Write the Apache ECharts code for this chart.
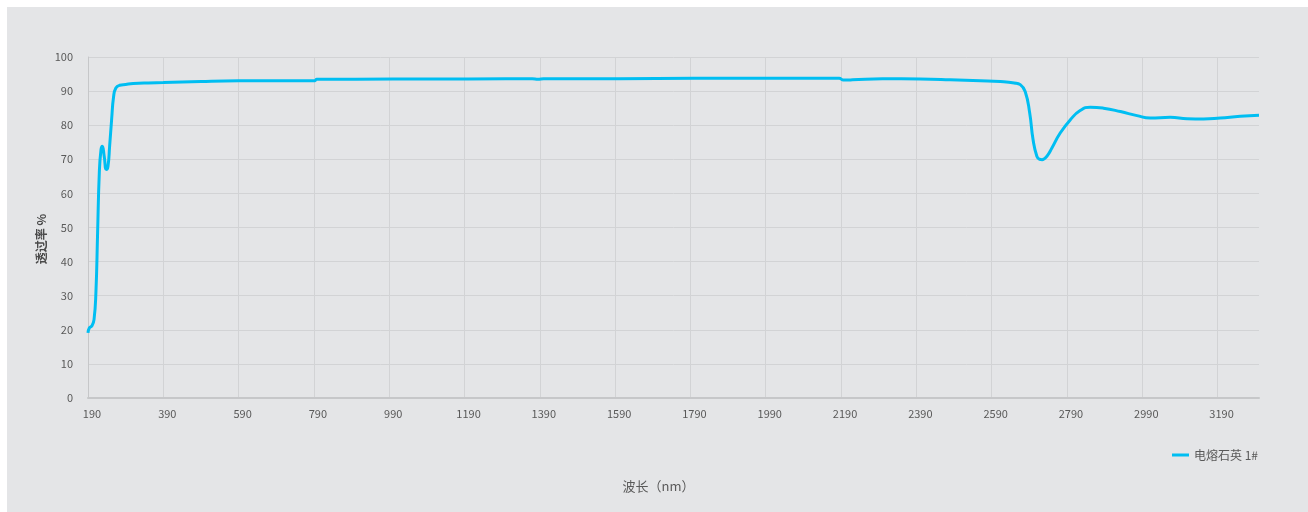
<!DOCTYPE html>
<html>
<head>
<meta charset="utf-8">
<script src="https://cdn.jsdelivr.net/npm/echarts@6/dist/echarts.min.js"></script>
<style>
html,body{margin:0;padding:0;background:#ffffff;}
#bg{position:absolute;left:7px;top:7px;width:1301px;height:505px;background:#E4E5E7;}
#chart{position:absolute;left:0;top:0;width:1308px;height:512px;}
</style>
</head>
<body>
<div id="bg"></div>
<div id="chart"></div>
<script>
const seriesName = '电熔石英 1#';
const xAxisName = '波长（nm）';
const yAxisName = '透过率 %';
const wavelength = [190, 193.5, 200.6, 206, 211, 215.5, 220, 224.5, 228, 233, 238.6, 243, 247.4, 252.7, 258, 264, 274, 290, 310, 350, 390, 490, 590, 690, 760, 793,
  797, 900, 1100, 1300, 1370, 1385, 1400, 1600, 1800, 2000, 2100, 2185, 2195, 2220, 2300, 2400, 2480, 2560, 2613, 2650, 2666, 2679, 2691,
  2700, 2710, 2717, 2724, 2730, 2737, 2750, 2772, 2799, 2825, 2852, 2887, 2932, 2976, 3011, 3064, 3109, 3153, 3197, 3250, 3300];
const transmittance = [19.1, 20.5, 21.2, 23, 30.9, 48.5, 66, 72.8, 73.8, 70.9, 67, 67.9, 73.8, 81.6, 88.4, 90.9, 91.7, 91.95, 92.2, 92.4, 92.5, 92.8, 93.0, 93.05, 93.05, 93.05,
  93.5, 93.5, 93.55, 93.6, 93.6, 93.45, 93.6, 93.65, 93.75, 93.8, 93.8, 93.8, 93.25, 93.3, 93.6, 93.55, 93.35, 93.05, 92.8, 92.4, 91.9, 89.9, 83.6,
  75.7, 70.9, 70.0, 69.9, 70.2, 70.9, 73.3, 77.7, 81.6, 84.3, 85.3, 85.0, 84.0, 82.8, 82.1, 82.3, 81.9, 81.8, 82.1, 82.6, 82.9];
const xMin = 190, xMax = 3300, xInterval = 200;
const yMin = 0, yMax = 100, yInterval = 10;

const points = wavelength.map((w, i) => [w, transmittance[i]]);
const textColor = '#595959';
const cjk = '"Noto Sans CJK SC", "Noto Sans", sans-serif';

const chart = echarts.init(document.getElementById('chart'), null, {renderer: 'canvas'});
chart.setOption({
  backgroundColor: 'transparent',
  animation: false,
  textStyle: {fontFamily: cjk},
  grid: {left: 88, top: 57, right: 49, bottom: 114, containLabel: false},
  graphic: [{
    type: 'text',
    left: 35, top: 214,
    rotation: Math.PI / 2,
    style: {text: yAxisName, fill: '#4a4a4a', font: 'bold 12px "Noto Sans CJK SC", sans-serif'}
  }],
  legend: {
    right: 45, top: 444,
    icon: 'rect',
    itemWidth: 17, itemHeight: 3,
    itemGap: 4,
    textStyle: {color: textColor, fontSize: 12, fontFamily: cjk},
    data: [seriesName]
  },
  xAxis: {
    type: 'value',
    min: xMin, max: xMax, interval: xInterval,
    name: xAxisName,
    nameLocation: 'middle',
    nameGap: 82,
    nameTextStyle: {color: textColor, fontSize: 13, fontFamily: cjk, padding: [0, 30, 0, 0]},
    axisLine: {show: true, lineStyle: {color: '#C6C7C9', width: 2}},
    axisTick: {show: false},
    axisLabel: {color: textColor, fontSize: 11, margin: 10, showMaxLabel: false, padding: [0, 0, 0, 8],
      formatter: v => String(v)},
    splitLine: {show: true, showMaxLine: false, lineStyle: {color: '#D2D3D5', width: 1}}
  },
  yAxis: {
    type: 'value',
    min: yMin, max: yMax, interval: yInterval,
    axisLine: {show: true, lineStyle: {color: '#C6C7C9', width: 1}},
    axisTick: {show: false},
    axisLabel: {color: textColor, fontSize: 11, margin: 15},
    splitLine: {show: true, lineStyle: {color: '#D2D3D5', width: 1}}
  },
  series: [{
    name: seriesName,
    type: 'line',
    data: points,
    symbol: 'none',
    smooth: 0.5,
    lineStyle: {color: '#00BEF2', width: 3},
    itemStyle: {color: '#00BEF2'}
  }]
});
</script>
</body>
</html>
